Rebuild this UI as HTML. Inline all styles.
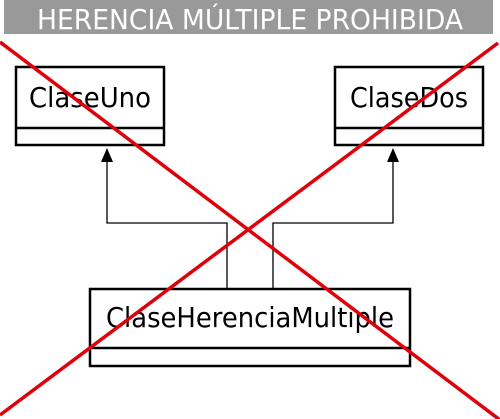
<!DOCTYPE html>
<html><head><style>html,body{margin:0;padding:0;background:#fff;}svg{display:block}</style></head>
<body>
<svg width="500" height="419" viewBox="0 0 500 419" xmlns="http://www.w3.org/2000/svg" font-family="'DejaVu Sans','Liberation Sans',sans-serif">
<rect x="4" y="0" width="489" height="34" fill="#999"/>
<text x="250" y="29" fill="#fff" font-size="28" text-anchor="middle" textLength="426" lengthAdjust="spacingAndGlyphs">HERENCIA MÚLTIPLE PROHIBIDA</text>
<g fill="#fff" stroke="#000" stroke-width="2.5">
<rect x="16" y="67" width="148" height="78"/>
<line x1="16" y1="128" x2="164" y2="128"/>
<rect x="335" y="67" width="148" height="78"/>
<line x1="335" y1="128" x2="483" y2="128"/>
<rect x="90" y="289" width="320" height="77"/>
<line x1="90" y1="348" x2="410" y2="348"/>
</g>
<g fill="none" stroke="#000" stroke-width="1.3">
<polyline points="107,160 107,223 227,223 227,289"/>
<polyline points="393,160 393,223 273,223 273,289"/>
</g>
<polygon points="107,148 101,162 113,162" fill="#000"/>
<polygon points="393,148 387,162 399,162" fill="#000"/>
<g font-size="28" fill="#000" text-anchor="middle">
<text x="90" y="107" textLength="122" lengthAdjust="spacingAndGlyphs">ClaseUno</text>
<text x="409" y="107" textLength="118" lengthAdjust="spacingAndGlyphs">ClaseDos</text>
<text x="250" y="327" textLength="288" lengthAdjust="spacingAndGlyphs">ClaseHerenciaMultiple</text>
</g>
<g stroke="#e0000a" stroke-width="3.5">
<line x1="0" y1="42" x2="500" y2="420"/>
<line x1="498" y1="43" x2="0" y2="415"/>
</g>
</svg>
</body></html>
